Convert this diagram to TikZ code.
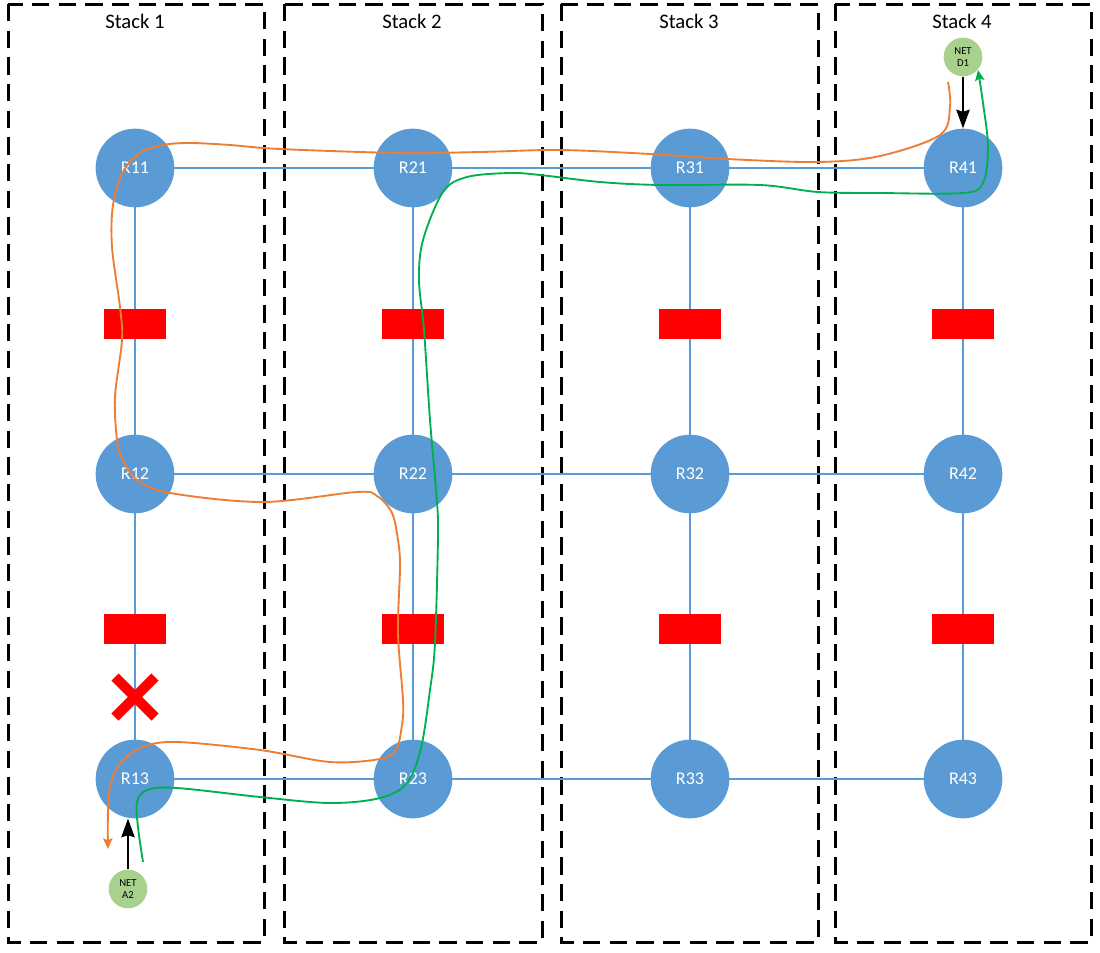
\documentclass[tikz,border=0pt]{standalone}
\usepackage{fontspec}
\setmainfont{Carlito}
\usetikzlibrary{arrows.meta}
\definecolor{nodeblue}{HTML}{5B9BD5}
\definecolor{netgreen}{HTML}{A9D18E}
\definecolor{pathorange}{HTML}{ED7D31}
\definecolor{pathgreen}{HTML}{00B050}
\begin{document}
\begin{tikzpicture}[x=0.75pt,y=-0.75pt,
  stackbox/.style={draw=black,line width=2.25pt,dash pattern=on 13pt off 7pt},
  stacklabel/.style={font=\fontsize{15.5}{18}\selectfont,inner sep=0pt},
  router/.style={circle,fill=nodeblue,minimum size=59pt,inner sep=0pt,text=white,font=\fontsize{13.5}{15}\selectfont},
  net/.style={circle,fill=netgreen,minimum size=29pt,inner sep=0pt,align=center,font=\fontsize{8}{9.5}\selectfont},
  link/.style={draw=nodeblue,line width=1.1pt},
  block/.style={rectangle,fill=red,minimum width=47pt,minimum height=23pt,inner sep=0pt},
  xmark/.style={draw=red,line width=7.5pt},
  inject/.style={draw=black,line width=1.6pt,-{Stealth[length=14pt,width=10pt,inset=1.5pt]}},
  opath/.style={draw=pathorange,line width=1.4pt,-{Stealth[length=8pt,width=7pt,inset=1.5pt]}},
  gpath/.style={draw=pathgreen,line width=1.4pt,-{Stealth[length=8pt,width=7pt,inset=1.5pt]}}
]
\useasboundingbox (0,0) rectangle (1100,953);
\fill[white] (0,0) rectangle (1100,953);

% stacks
\draw[stackbox] (8,4) rectangle (264,942);
\draw[stackbox] (284,4) rectangle (542,942);
\draw[stackbox] (561,4) rectangle (818,942);
\draw[stackbox] (835,4) rectangle (1091,942);
\node[stacklabel] (L1) at (135,21) {Stack 1};
\node[stacklabel] (L2) at (412,21) {Stack 2};
\node[stacklabel] (L3) at (689,21) {Stack 3};
\node[stacklabel] (L4) at (962,21) {Stack 4};

% router positions
\foreach \c/\x in {1/135,2/413,3/690,4/963}{
  \foreach \r/\y in {1/168,2/474,3/779}{
    \coordinate (P\c\r) at (\x,\y);
  }
}
% links
\foreach \r in {1,2,3}{
  \draw[link] (P1\r) -- (P2\r) -- (P3\r) -- (P4\r);
}
\foreach \c in {1,2,3,4}{
  \draw[link] (P\c1) -- (P\c2) -- (P\c3);
}
% blocks
\foreach \c/\x in {1/135,2/413,3/690,4/963}{
  \node[block] (B\c a) at (\x,324) {};
  \node[block] (B\c b) at (\x,629) {};
}
% router nodes
\foreach \c in {1,2,3,4}{
  \foreach \r in {1,2,3}{
    \node[router] (R\c\r) at (P\c\r) {R\c\r};
  }
}

% failure mark
\coordinate (XC) at (135,697);
\draw[xmark] ([shift={(-20,-20)}]XC) -- ([shift={(20,20)}]XC);
\draw[xmark] ([shift={(-20,20)}]XC) -- ([shift={(20,-20)}]XC);

% nets
\node[net] (D1) at (963,57) {NET\\D1};
\node[net] (A2) at (128,889) {NET\\A2};
\draw[inject] (D1.south) -- (R41.north);
\draw[inject] (A2.north) -- (A2.north |- R13.south);

% orange route
\coordinate (os) at (948,82);
\coordinate (oe) at (108,849);
\draw[opath] plot[smooth,tension=0.55] coordinates {(os) (950,107) (940,135) (880,156) (818,162) (727,159) (650,154) (560,150) (480,152) (400,153) (280,149) (230,145) (190,143) (163,145) (140,153) (123,172) (113,205) (112,247) (120,307) (122,340) (115,397) (117,440) (122,458) (137,480) (170,493) (263,502) (357,492) (377,496) (392,513) (398,540) (400,567) (398,633) (403,700) (402,725) (396,750) (380,759) (330,762) (260,750) (177,742) (143,747) (120,764) (109,793) (oe)};

% green route
\coordinate (gs) at (143,862);
\coordinate (ge) at (978,70);
\draw[gpath] plot[smooth,tension=0.55] coordinates {(gs) (138,827) (137,802) (147,790) (177,788) (260,797) (330,803) (380,798) (407,783) (421,748) (430,690) (435,643) (438,533) (436,490) (430,420) (424,330) (419,280) (423,240) (443,192) (467,177) (510,173) (540,175) (600,182) (660,185) (760,185) (818,192) (880,193) (963,193) (983,183) (988,147) (983,103) (ge)};

\end{tikzpicture}
\end{document}
